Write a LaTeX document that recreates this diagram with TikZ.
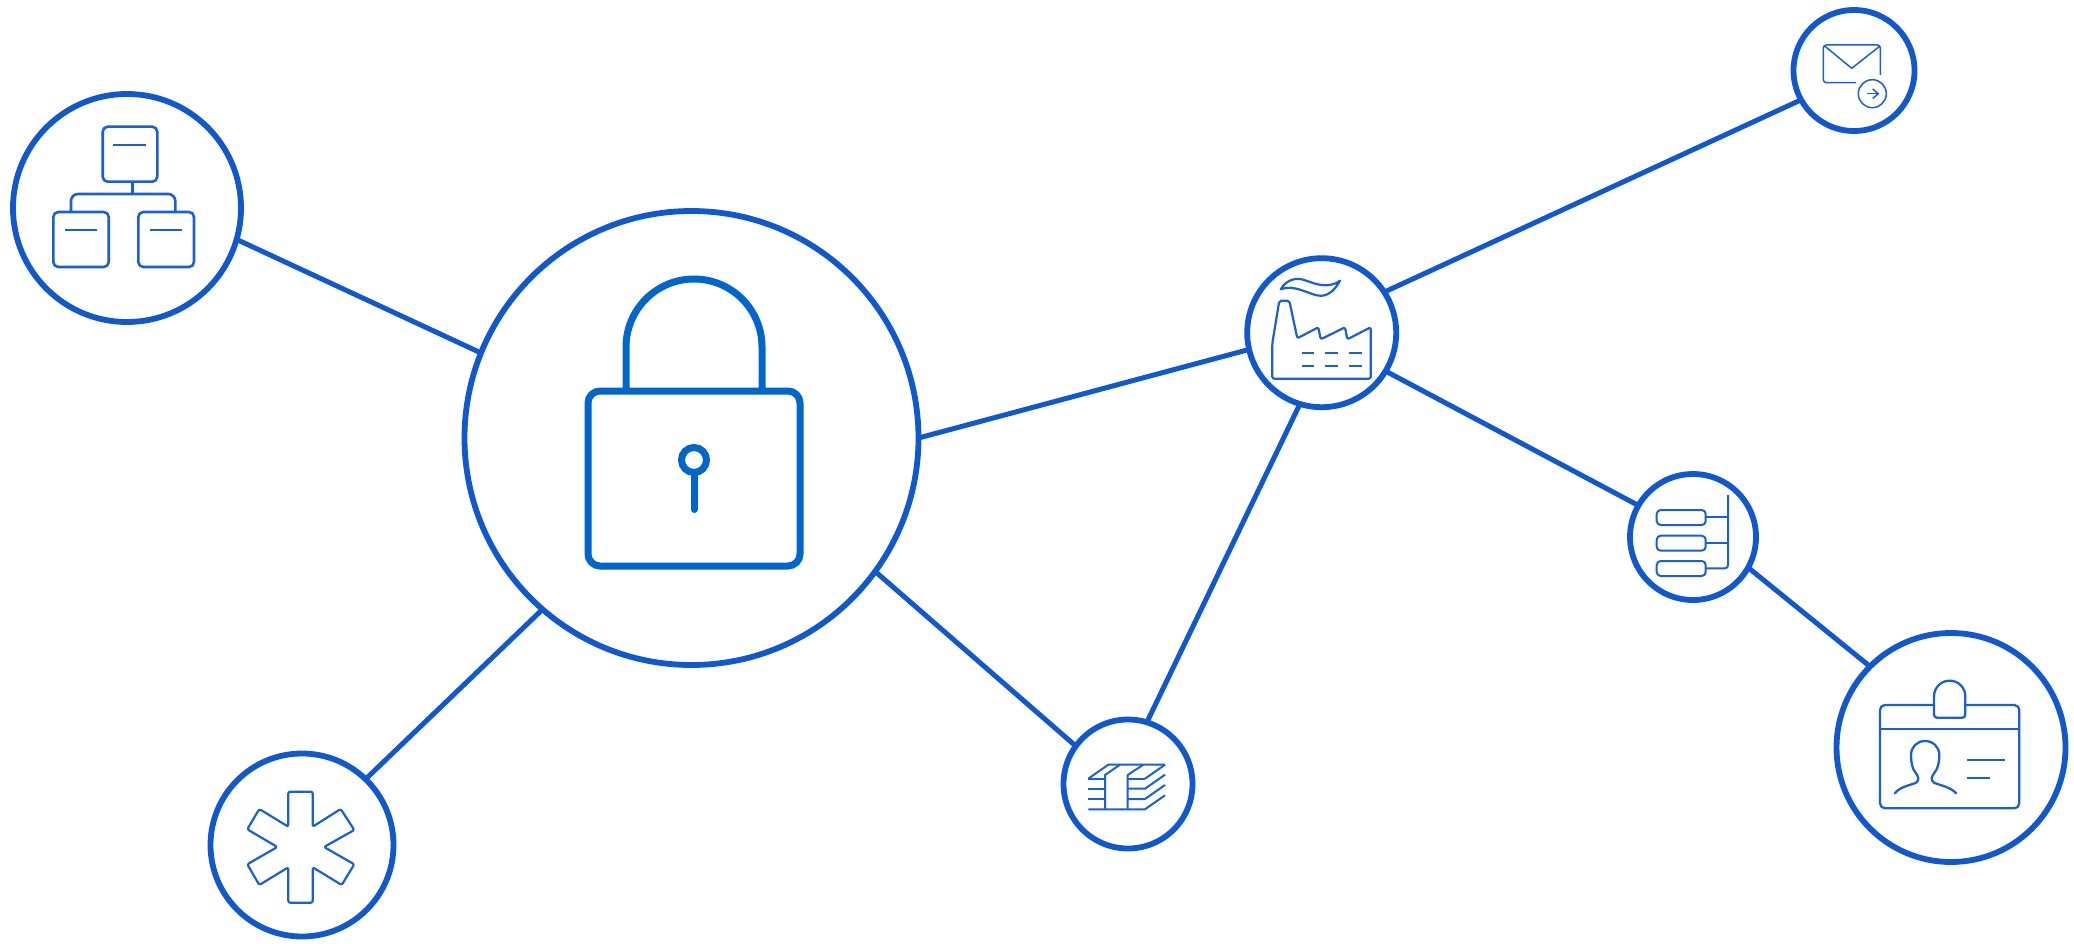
\documentclass[tikz,border=0pt]{standalone}
\definecolor{ringblue}{HTML}{1058CC}
\definecolor{lockblue}{HTML}{0066CC}
\definecolor{iconblue}{HTML}{1A60CE}
\tikzset{
  ring/.style={circle,draw=ringblue,fill=white,line width=5.8pt,inner sep=0pt,outer sep=0pt,minimum size=#1},
  link/.style={draw=ringblue,line width=5pt},
  lockline/.style={draw=lockblue,line width=7pt},
  icon/.style={draw=iconblue,line width=#1,line join=round},
  icon/.default=2pt
}
\begin{document}
\begin{tikzpicture}[x=1pt,y=-1pt]
\useasboundingbox (0,0) rectangle (2074,944);
\fill[white] (0,0) rectangle (2074,944);
% nodes
\node[ring=454pt] (main) at (691.5,438) {};
\node[ring=228pt] (org) at (127,208) {};
\node[ring=121pt] (mail) at (1854,70.5) {};
\node[ring=149pt] (factory) at (1321.7,332.7) {};
\node[ring=126pt] (rack) at (1693,537) {};
\node[ring=229pt] (badge) at (1951,747.5) {};
\node[ring=129pt] (stack) at (1128,784) {};
\node[ring=183pt] (star) at (302,845) {};
% connectors
\draw[link] (org.-16) -- (main.158.2);
\draw[link] (main.0) -- (factory.193.9);
\draw[link] (factory.33.3) -- (mail.209.8);
\draw[link] (factory.-31.2) -- (rack.150.7);
\draw[link] (rack.-29.9) -- (badge.135.2);
\draw[link] (stack.73.5) -- (factory.253.4);
\draw[link] (main.-36.2) -- (stack.144.9);
\draw[link] (main.229.5) -- (star.46);
% lock
\draw[lockline,rounded corners=12pt] (588,391) rectangle (800,566);
\draw[lockline] (626,391) -- (626,347) arc[start angle=180,end angle=360,radius=68] -- (762,391);
\draw[lockline] (694,460) circle[radius=12.5];
\draw[lockline,line cap=round] (694,472.5) -- (694,509.5);
% org chart icon
\begin{scope}[icon=2.6pt]
\draw[rounded corners=5pt] (102.7,126.7) rectangle (157.3,181.7);
\draw[rounded corners=5pt] (53.3,212) rectangle (108.7,267);
\draw[rounded corners=5pt] (138.3,212) rectangle (194,267);
\draw (113.3,145) -- (145.7,145);
\draw (65,230) -- (96.7,230);
\draw (150,230) -- (182,230);
\draw (132.7,181.7) -- (132.7,194);
\draw[rounded corners=7pt] (71,212) -- (71,194) -- (175.3,194) -- (175.3,212);
\end{scope}
% mail icon
\begin{scope}[icon=1.5pt]
\draw[rounded corners=3pt] (1880.3,75) -- (1880.3,45) -- (1823.3,45) -- (1823.3,82.7) -- (1856,82.7);
\draw (1824,45.5) -- (1851.7,68.3) -- (1880,46);
\draw (1872.3,93.7) circle[radius=14];
\draw (1866.7,93.7) -- (1878.3,93.7);
\draw (1872.7,89) -- (1878.3,93.7) -- (1872.7,98.4);
\end{scope}
% factory icon
\begin{scope}[icon=2.2pt]
\draw[rounded corners=2pt] (1272.3,378.7) -- (1272.3,343.3) -- (1279.3,300.7) -- (1289.3,300.7) -- (1297.3,338.3) -- (1318.3,327.3) -- (1320.7,339.3) -- (1345,327.3) -- (1347.3,339.3) -- (1370.7,327.3) -- (1370.7,378.7) -- cycle;
\foreach \ya in {352.7,366}{
  \draw (1302,\ya) -- (1314,\ya);
  \draw (1325.3,\ya) -- (1338,\ya);
  \draw (1349.3,\ya) -- (1361.7,\ya);
}
\draw[line cap=round] (1280.7,289.3) .. controls (1286,280) and (1296,277) .. (1304,280) .. controls (1314,283) and (1327,290) .. (1340,280.7) .. controls (1334,292) and (1326,297) .. (1318,295.5) .. controls (1308,294) and (1294,284) .. (1280.7,289.3);
\end{scope}
% rack icon
\begin{scope}[icon=2pt]
\draw[rounded corners=4pt] (1656.7,510) rectangle (1705.7,525);
\draw[rounded corners=4pt] (1656.7,535.7) rectangle (1705.7,550.7);
\draw[rounded corners=4pt] (1656.7,561) rectangle (1705.7,576);
\draw[rounded corners=3pt] (1728,495) -- (1728,568.3) -- (1705.7,568.3);
\draw (1705.7,517.3) -- (1728,517.3);
\draw (1705.7,543) -- (1728,543);
\end{scope}
% badge icon
\begin{scope}[icon=2.3pt]
\draw[rounded corners=5pt] (1934,705) -- (1880,705) -- (1880,808.3) -- (2019.3,808.3) -- (2019.3,705) -- (1965.3,705);
\draw (1880,729) -- (2019.3,729);
\draw[rounded corners=3pt] (1965.3,696.3) -- (1965.3,717.7) -- (1934,717.7) -- (1934,696.3);
\draw (1934,697) -- (1934,696.3) arc[start angle=180,end angle=360,radius=15.65] -- (1965.3,697);
\draw[line cap=round] (1895,793.3) .. controls (1899,787) and (1911,785) .. (1916,782.7) .. controls (1920,780) and (1918,776) .. (1916,773.3) .. controls (1912,769) and (1911,762) .. (1911,755) .. controls (1911,747) and (1917,741) .. (1925,741) .. controls (1933,741) and (1939.3,747) .. (1939.3,755) .. controls (1939.3,762) and (1938,769) .. (1934,773.3) .. controls (1932,776) and (1930,780) .. (1934,782.7) .. controls (1939,785) and (1951,787) .. (1956,793.3);
\draw (1967.3,759.7) -- (2005,759.7);
\draw (1967.3,777.7) -- (1990,777.7);
\end{scope}
% stack icon
\begin{scope}[icon=2pt]
\draw (1088.3,778.7) -- (1108.3,764.7) -- (1165,764.7);
\draw (1165,764.7) -- (1145,778.7);
\draw (1088.3,778.7) -- (1105,778.7);
\draw (1127.7,778.7) -- (1145,778.7);
\draw (1088.3,788.7) -- (1105,788.7);
\draw (1127.7,788.7) -- (1145,788.7) -- (1165,774.7);
\draw (1088.3,799) -- (1105,799);
\draw (1127.7,799) -- (1145,799) -- (1165,785);
\draw (1088.3,809.3) -- (1145,809.3) -- (1165,795.3);
\draw (1120,764.7) -- (1105,775) -- (1105,809.3);
\draw (1143.3,764.7) -- (1127.7,775) -- (1127.7,809.3);
\end{scope}
% star of life icon
\draw[icon=2.2pt,rounded corners=2pt] (288.3,791.7) -- (312.7,791.7) -- (312.7,826.7) -- (340.7,809) -- (354.3,830) -- (324,847) -- (354.3,864.3) -- (341.7,885) -- (312.7,867.3) -- (312.7,902.7) -- (288.3,902.7) -- (288.3,867.3) -- (259.3,885) -- (247.3,864.3) -- (277.3,847) -- (247.3,829.3) -- (259.3,809) -- (288.3,826.7) -- cycle;
\end{tikzpicture}
\end{document}
